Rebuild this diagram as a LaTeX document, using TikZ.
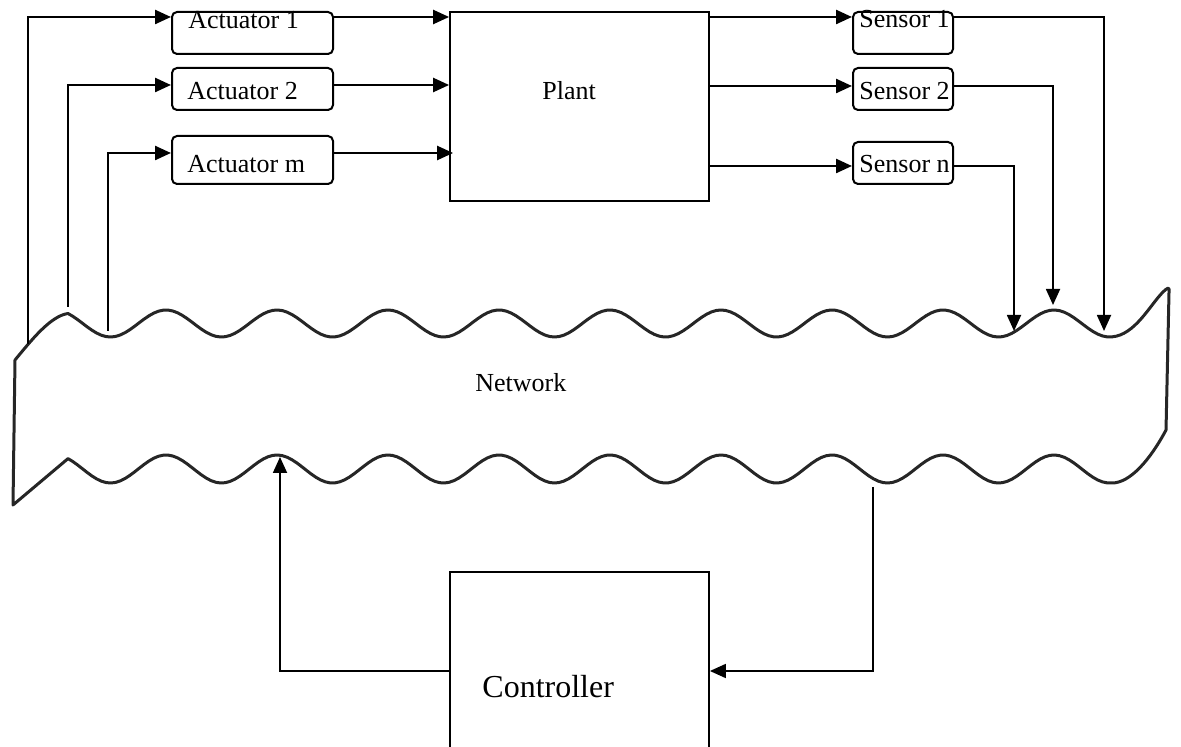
\documentclass[tikz,border=0pt]{standalone}
\usepackage{fontspec}
\setmainfont{Liberation Serif}
\usetikzlibrary{arrows.meta}
\begin{document}
\begin{tikzpicture}[x=0.5pt,y=-0.5pt,
  box/.style={draw, line width=1pt, inner sep=0pt, rounded corners=2.5pt},
  plainbox/.style={draw, line width=0.9pt, inner sep=0pt},
  lbl/.style={anchor=base west, inner sep=0pt, font=\fontsize{13}{15}\selectfont},
  arr/.style={line width=1.2pt, -{Triangle[length=8pt,width=7pt]}},
  thinarr/.style={line width=0.9pt, -{Triangle[length=8pt,width=7pt]}},
  net/.style={line width=1.5pt, line join=round, draw=black!85}
]
\clip (0,0) rectangle (1181,747);

% boxes
\node[box, minimum width=80.5pt, minimum height=21pt] (act1) at (252.5,33) {};
\node[box, minimum width=80.5pt, minimum height=21pt] (act2) at (252.5,89) {};
\node[box, minimum width=80.5pt, minimum height=24pt] (actm) at (252.5,160) {};
\node[plainbox, minimum width=129.5pt, minimum height=94.5pt] (plant) at (579.5,106.5) {};
\node[box, minimum width=50pt, minimum height=21pt] (sen1) at (903,33) {};
\node[box, minimum width=50pt, minimum height=21pt] (sen2) at (903,89) {};
\node[box, minimum width=50pt, minimum height=21pt] (senn) at (903,163) {};
\node[plainbox, minimum width=129.5pt, minimum height=104pt] (ctrl) at (579.5,676) {};

% labels
\node[lbl] (act1t) at (188,29) {Actuator 1};
\node[lbl] (act2t) at (187,100) {Actuator 2};
\node[lbl] (actmt) at (187,173) {Actuator m};
\node[lbl] (plantt) at (542,100) {Plant};
\node[lbl] (sen1t) at (859,28) {Sensor 1};
\node[lbl] (sen2t) at (859,100) {Sensor 2};
\node[lbl] (sennt) at (859,173) {Sensor n};
\node[lbl] (nett) at (475,392) {Network};
\node[lbl, font=\fontsize{16}{19}\selectfont] (ctrlt) at (482,697) {Controller};

% network cloud
\draw[net] (15,360) .. controls (30,342) and (50,316) .. (68,313.5)
  -- plot[domain=68:1112, samples=220] (\x,{323.5-13.5*cos((\x-166)/111*360)})
  .. controls (1135,335) and (1150,305) .. (1163,292)
  .. controls (1167,288) and (1170,286) .. (1169,292)
  -- (1166,430)
  .. controls (1150,460) and (1130,483) .. (1112,483)
  -- plot[domain=1112:68, samples=220] (\x,{469-14*cos((\x-166)/111*360)})
  -- (13,505) -- cycle;

% free ends on the network
\coordinate (n1) at (28,344);
\coordinate (n2) at (68,307);
\coordinate (n3) at (108,331);
\coordinate (m1) at (1104,331);
\coordinate (m2) at (1053,305);
\coordinate (m3) at (1014,331);
\coordinate (c1) at (280,457);
\coordinate (c2) at (873,487);

% connectors
\draw[arr] (n1) |- ([yshift=8pt]act1.west);
\draw[arr] (n2) |- ([yshift=2pt]act2.west);
\draw[arr] (n3) |- ([yshift=3.5pt]actm.west);
\draw[arr] ([yshift=8pt]act1.east) -- ([yshift=8pt]act1.east -| plant.west);
\draw[arr] ([yshift=2pt]act2.east) -- ([yshift=2pt]act2.east -| plant.west);
\draw[arr] ([yshift=3.5pt]actm.east) -- ([yshift=3.5pt,xshift=2pt]actm.east -| plant.west);
\draw[arr] ([yshift=8pt]sen1.west -| plant.east) -- ([yshift=8pt]sen1.west);
\draw[arr] ([yshift=1.5pt]sen2.west -| plant.east) -- ([yshift=1.5pt]sen2.west);
\draw[arr] ([yshift=-1.5pt]senn.west -| plant.east) -- ([yshift=-1.5pt]senn.west);
\draw[thinarr] ([yshift=8pt]sen1.east) -| (m1);
\draw[thinarr] ([yshift=1.5pt]sen2.east) -| (m2);
\draw[thinarr] ([yshift=-1.5pt]senn.east) -| (m3);
\draw[thinarr] ([yshift=2.5pt]ctrl.west) -| (c1);
\draw[thinarr] (c2) |- ([yshift=2.5pt]ctrl.east);
\end{tikzpicture}
\end{document}
